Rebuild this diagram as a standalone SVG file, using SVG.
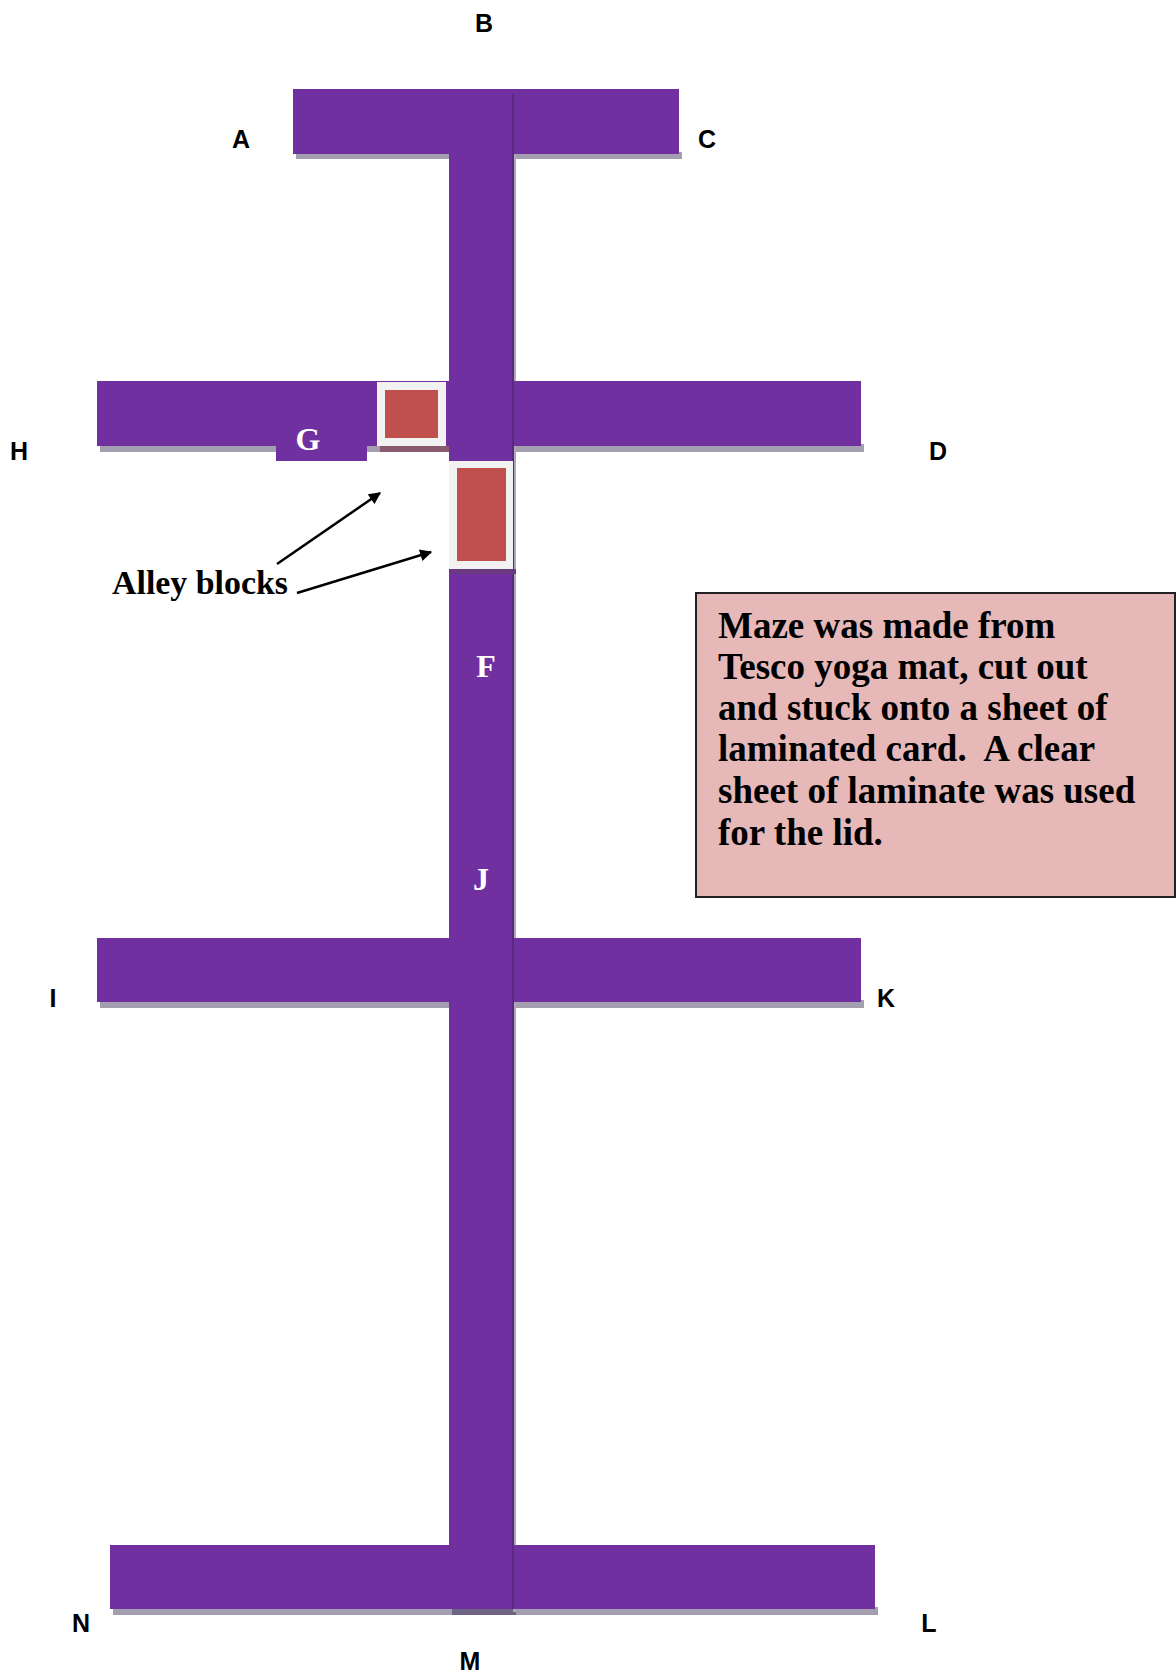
<svg xmlns="http://www.w3.org/2000/svg" width="1176" height="1675" viewBox="0 0 1176 1675">
<style>
.bar{fill:#7030A0}
.sh{fill:#A39FB0}
.lbl{font-family:"Liberation Sans",Arial,sans-serif;font-weight:bold;font-size:25px;fill:#000;text-anchor:middle}
.wl{font-family:"Liberation Serif","Times New Roman",serif;font-weight:bold;font-size:32px;fill:#fff;text-anchor:middle}
.note{font-family:"Liberation Serif","Times New Roman",serif;font-weight:bold;font-size:37px;fill:#000;white-space:pre}
.frame{fill:#F2F2F2}
.red{fill:#C0504D}
</style>
<defs>
<marker id="ah" viewBox="0 0 10 10" refX="9" refY="5" markerWidth="13" markerHeight="12" orient="auto" markerUnits="userSpaceOnUse">
<path d="M0,0 L10,5 L0,10 z" fill="#000"/>
</marker>
</defs>
<rect width="1176" height="1675" fill="#fff"/>
<g id="maze">
<rect class="sh" x="296" y="152" width="386" height="7"/>
<rect class="sh" x="100" y="444" width="764" height="8"/>
<rect class="sh" x="100" y="1000" width="764" height="8"/>
<rect class="sh" x="113" y="1607" width="765" height="8"/>
<rect x="452" y="1607" width="64" height="8" fill="#6E6585"/>
<rect x="513" y="92" width="3" height="1520" fill="#B0A8B8"/>
<rect class="bar" x="293" y="89" width="386" height="65"/>
<rect class="bar" x="97" y="381" width="764" height="65"/>
<rect class="bar" x="276" y="440" width="91" height="21"/>
<rect class="bar" x="97" y="938" width="764" height="64"/>
<rect class="bar" x="110" y="1545" width="765" height="64"/>
<rect class="bar" x="449" y="89" width="64" height="1520"/>
<rect x="512" y="94" width="2" height="1515" fill="#5A2A80"/>
</g>
<g id="block1">
<rect x="380" y="446" width="69" height="6" fill="#8A5A6E"/>
<rect class="frame" x="377" y="382" width="69" height="64"/>
<rect class="red" x="385" y="390" width="53" height="48"/>
</g>
<g id="block2">
<rect x="452" y="569" width="64" height="5" fill="#6A3A80"/>
<rect class="frame" x="449" y="461" width="64" height="108"/>
<rect class="red" x="457" y="468" width="49" height="93"/>
</g>
<g id="labels">
<text class="lbl" x="484" y="32">B</text>
<text class="lbl" x="241" y="148">A</text>
<text class="lbl" x="707" y="148">C</text>
<text class="lbl" x="19" y="460">H</text>
<text class="lbl" x="938" y="460">D</text>
<text class="lbl" x="53" y="1007">I</text>
<text class="lbl" x="886" y="1007">K</text>
<text class="lbl" x="81" y="1632">N</text>
<text class="lbl" x="929" y="1632">L</text>
<text class="lbl" x="470" y="1670">M</text>
<text class="wl" x="308" y="450">G</text>
<text class="wl" x="486" y="677">F</text>
<text class="wl" x="481" y="890">J</text>
</g>
<g id="alley-label">
<text x="112" y="594" font-family="'Liberation Serif','Times New Roman',serif" font-weight="bold" font-size="33" fill="#000" textLength="176" lengthAdjust="spacingAndGlyphs">Alley blocks</text>
</g>
<g id="note">
<rect x="696" y="593" width="479" height="304" fill="#E6B8B7" stroke="#222" stroke-width="2"/>
<text class="note" x="718" y="638">Maze was made from</text>
<text class="note" x="718" y="679">Tesco yoga mat, cut out</text>
<text class="note" x="718" y="720">and stuck onto a sheet of</text>
<text class="note" x="718" y="761">laminated card.  A clear</text>
<text class="note" x="718" y="803">sheet of laminate was used</text>
<text class="note" x="718" y="845">for the lid.</text>
</g>
<g id="connectors" stroke="#000" stroke-width="2.5" fill="none">
<line x1="277" y1="564" x2="380" y2="493" marker-end="url(#ah)"/>
<line x1="297" y1="593" x2="431" y2="552" marker-end="url(#ah)"/>
</g>
</svg>
